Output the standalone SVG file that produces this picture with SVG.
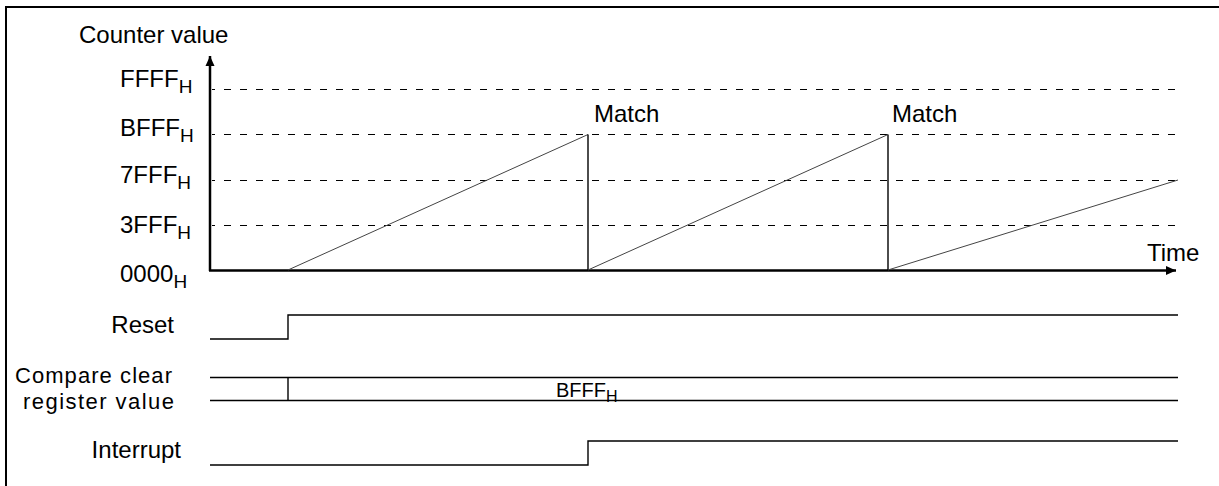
<svg xmlns="http://www.w3.org/2000/svg" width="1219" height="486" viewBox="0 0 1219 486">
  <defs>
    <style>
      .t { font-family: "Liberation Sans", Arial, sans-serif; font-size: 24px; fill: #000; }
      .s { font-size: 19px; }
      .grid { stroke: #000; stroke-width: 1; stroke-dasharray: 7 9; stroke-dashoffset: 4; fill: none; }
      .ramp { stroke: #444; stroke-width: 1; fill: none; }
      .sig { stroke: #000; stroke-width: 1.4; fill: none; }
      .axis { stroke: #000; stroke-width: 2.5; fill: none; }
    </style>
    <marker id="arr" markerUnits="userSpaceOnUse" markerWidth="10" markerHeight="10" viewBox="0 0 10 10" refX="10" refY="5" orient="auto">
      <path d="M0,0.5 L10,5 L0,9.5 Z" fill="#000"/>
    </marker>
  </defs>
  <rect width="1219" height="486" fill="#fff"/>
  <!-- frame -->
  <path d="M6,486 V7 H1219" stroke="#000" stroke-width="2" fill="none"/>

  <g id="axes">
    <text class="t" x="79" y="43">Counter value</text>
    <line class="axis" x1="210" y1="271" x2="210" y2="56" marker-end="url(#arr)"/>
    <line class="axis" x1="209" y1="270.5" x2="1176" y2="270.5" marker-end="url(#arr)"/>
    <text class="t" x="1147" y="261">Time</text>
  </g>

  <g id="ylabels">
    <text class="t" x="120" y="87">FFFF<tspan class="s" dy="6">H</tspan></text>
    <text class="t" x="120" y="136">BFFF<tspan class="s" dy="6">H</tspan></text>
    <text class="t" x="120" y="183">7FFF<tspan class="s" dy="6">H</tspan></text>
    <text class="t" x="120" y="233">3FFF<tspan class="s" dy="6">H</tspan></text>
    <text class="t" x="120" y="282">0000<tspan class="s" dy="6">H</tspan></text>
  </g>

  <g id="grid">
    <line class="grid" x1="212" y1="89.5" x2="1176" y2="89.5"/>
    <line class="grid" x1="212" y1="134.5" x2="1176" y2="134.5"/>
    <line class="grid" x1="212" y1="180.5" x2="1176" y2="180.5"/>
    <line class="grid" x1="212" y1="225.5" x2="1176" y2="225.5"/>
  </g>

  <g id="counter">
    <polyline class="ramp" points="288,270 588,134.5"/>
    <line class="sig" x1="588" y1="134.5" x2="588" y2="270"/>
    <polyline class="ramp" points="588,270 888,134.5"/>
    <line class="sig" x1="888" y1="134.5" x2="888" y2="270"/>
    <polyline class="ramp" points="888,270 1178,180"/>
    <text class="t" x="594" y="122">Match</text>
    <text class="t" x="892" y="122">Match</text>
  </g>

  <g id="reset">
    <text class="t" x="174" y="333" text-anchor="end">Reset</text>
    <polyline class="sig" points="210,339 288,339 288,315 1178,315"/>
  </g>

  <g id="compare">
    <text class="t" x="15" y="382.5" style="font-size:22px" textLength="157" lengthAdjust="spacing">Compare clear</text>
    <text class="t" x="23" y="409" style="font-size:22px" textLength="151" lengthAdjust="spacing">register value</text>
    <line class="sig" x1="210" y1="377.5" x2="1178" y2="377.5"/>
    <line class="sig" x1="210" y1="400.5" x2="1178" y2="400.5"/>
    <line class="sig" x1="288" y1="377.5" x2="288" y2="400.5"/>
    <text class="t" x="556" y="397" style="font-size:20px">BFFF<tspan style="font-size:16px" dy="5">H</tspan></text>
  </g>

  <g id="interrupt">
    <text class="t" x="181" y="458" text-anchor="end">Interrupt</text>
    <polyline class="sig" points="210,465 588,465 588,441 1178,441"/>
  </g>
</svg>
